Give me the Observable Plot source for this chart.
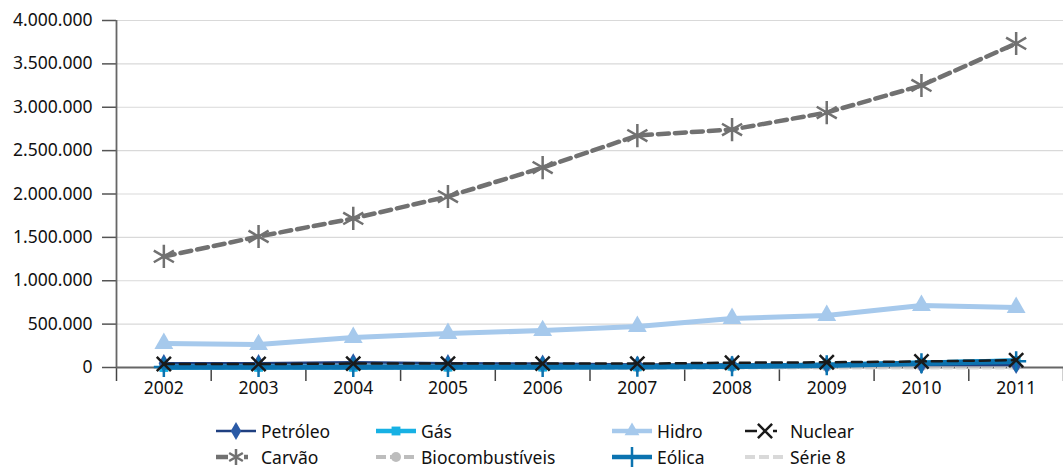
<!DOCTYPE html>
<html>
<head>
<meta charset="utf-8">
<script src="https://cdn.jsdelivr.net/npm/d3@7"></script>
<script src="https://cdn.jsdelivr.net/npm/@observablehq/plot@0.6"></script>
<style>
  html, body { margin: 0; padding: 0; background: #fff; }
  body { width: 1063px; height: 467px; position: relative; overflow: hidden; font-family: "Noto Sans", sans-serif; }
  #chart { position: absolute; left: 0; top: 0; }
  .leg { position: absolute; display: flex; align-items: center; font-size: 17.5px; color: #111; white-space: nowrap; }
  .leg svg { margin-right: 5px; }
</style>
</head>
<body>
<div id="chart"></div>
<div id="legend"></div>
<script>
// ---- data ----
const years = [2002, 2003, 2004, 2005, 2006, 2007, 2008, 2009, 2010, 2011];
const petroleo = [50000, 50000, 60000, 50000, 45000, 35000, 35000, 30000, 30000, 30000];
const gas = [0, 2000, 3000, 4000, 5000, 8000, 15000, 30000, 55000, 80000];
const hidro = [277000, 265000, 346000, 392000, 426000, 473000, 565000, 600000, 715000, 692000];
const nuclear = [40000, 40000, 45000, 45000, 45000, 45000, 55000, 60000, 70000, 85000];
const carvao = [1280000, 1510000, 1718000, 1971000, 2305000, 2674000, 2743000, 2939000, 3251000, 3735000];
const biocomb = [0, 0, 0, 0, 0, 0, 5000, 10000, 15000, 20000];
const eolica = [5000, 5000, 5000, 5000, 5000, 8000, 15000, 25000, 50000, 72000];
const serie8 = [0, 0, 0, 0, 0, 0, 0, 0, 0, 0];
const yTicks = [0, 500000, 1000000, 1500000, 2000000, 2500000, 3000000, 3500000, 4000000];

const seriesNames = ["Petróleo", "Gás", "Hidro", "Nuclear", "Carvão", "Biocombustíveis", "Eólica", "Série 8"];
const seriesValues = [petroleo, gas, hidro, nuclear, carvao, biocomb, eolica, serie8];

// ---- styles ----
const styles = {
  "Petróleo":        {stroke: "#1f3f80", width: 2.5, dash: null,   symbol: "diamond",  r: 5.5, fill: "#2a5aa6", mStroke: "none", mw: 0},
  "Gás":             {stroke: "#17b1e4", width: 4.5, dash: null,   symbol: "square",   r: 5,  fill: "#17b1e4", mStroke: "none", mw: 0},
  "Hidro":           {stroke: "#a6c9ec", width: 5,   dash: null,   symbol: "triangle", r: 7,  fill: "#a6c9ec", mStroke: "none", mw: 0},
  "Nuclear":         {stroke: "#1a1a1a", width: 2.5, dash: "10,6", symbol: "times",    r: 6.5, fill: "none",    mStroke: "#1a1a1a", mw: 2.5},
  "Carvão":          {stroke: "#717171", width: 4.5, dash: "11,6", symbol: "asterisk", r: 11, fill: "none",    mStroke: "#717171", mw: 2.5},
  "Biocombustíveis": {stroke: "#bdbdbd", width: 4,   dash: "8,5",  symbol: "circle",   r: 5,  fill: "#bdbdbd", mStroke: "none", mw: 0},
  "Eólica":          {stroke: "#0b73b0", width: 5.5, dash: null,   symbol: "plus",     r: 6.5, fill: "none",    mStroke: "#0b73b0", mw: 2.5},
  "Série 8":         {stroke: "#d9d9d9", width: 4,   dash: "8,5",  symbol: null,       r: 0,  fill: "none",    mStroke: "none", mw: 0}
};

const data = [];
seriesNames.forEach((name, i) => {
  years.forEach((yr, j) => data.push({series: name, year: yr, value: seriesValues[i][j]}));
});

const drawOrder = ["Série 8", "Biocombustíveis", "Gás", "Petróleo", "Eólica", "Nuclear", "Hidro", "Carvão"];
const boundaries = [years[0] - 0.5, ...years.map(y => y + 0.5)];

const locale = d3.formatLocale({decimal: ",", thousands: ".", grouping: [3], currency: ["", ""]});
const fmt = locale.format(",.0f");

const marks = [
  Plot.gridY(yTicks, {stroke: "#d9d9d9", strokeOpacity: 1, strokeWidth: 1.2}),
  Plot.axisY(yTicks, {tickSize: 14, tickPadding: 10, tickFormat: fmt, stroke: "#555", strokeWidth: 1.5, fontSize: 17.5, fill: "#111", label: null}),
  Plot.axisX(boundaries, {tickSize: 14, tickFormat: () => "", stroke: "#444", strokeWidth: 1.5, label: null}),
  Plot.axisX(years, {tickSize: 0, tickPadding: 14, tickFormat: d => String(d), fontSize: 17.5, fill: "#111", label: null}),
  Plot.ruleY([0], {stroke: "#666", strokeWidth: 1.8}),
  Plot.ruleX([boundaries[0]], {stroke: "#666", strokeWidth: 1.8})
];

for (const name of drawOrder) {
  const s = styles[name];
  const d = data.filter(r => r.series === name);
  marks.push(Plot.line(d, {x: "year", y: "value", stroke: s.stroke, strokeWidth: s.width, strokeDasharray: s.dash || undefined, strokeLinejoin: "round"}));
  if (s.symbol) {
    marks.push(Plot.dot(d, {x: "year", y: "value", symbol: () => s.symbol, r: s.r, fill: s.fill, stroke: s.mStroke, strokeWidth: s.mw}));
  }
}

const chart = Plot.plot({
  width: 1063,
  height: 400,
  marginLeft: 116,
  marginRight: 0,
  marginTop: 20,
  marginBottom: 33,
  style: {fontFamily: "Noto Sans, sans-serif", fontSize: "17.5px", background: "white", overflow: "visible"},
  x: {type: "linear", domain: [boundaries[0], boundaries[boundaries.length - 1]], label: null},
  y: {domain: [0, 4000000], label: null},
  symbol: {type: "identity"},
  marks
});
document.getElementById("chart").appendChild(chart);

// ---- legend ----
const legCols = [216, 376, 612, 745];
const legRows = [431, 457];
const legend = document.getElementById("legend");
seriesNames.forEach((name, i) => {
  const s = styles[name];
  const col = i % 4, row = Math.floor(i / 4);
  const div = document.createElement("div");
  div.className = "leg";
  div.style.left = legCols[col] + "px";
  div.style.top = (legRows[row] - 13) + "px";
  div.style.height = "26px";
  const w = 40, h = 26;
  const svg = d3.create("svg").attr("width", w).attr("height", h);
  svg.append("line").attr("x1", 0).attr("x2", w).attr("y1", h / 2).attr("y2", h / 2)
    .attr("stroke", s.stroke).attr("stroke-width", Math.min(s.width, 4.5))
    .attr("stroke-dasharray", s.dash ? (name === "Nuclear" || name === "Carvão" ? "12,16,4,8" : "10,4") : null);
  if (s.symbol) {
    const sym = {diamond: d3.symbolDiamond, square: d3.symbolSquare, triangle: d3.symbolTriangle, times: d3.symbolTimes, asterisk: d3.symbolAsterisk, circle: d3.symbolCircle, plus: d3.symbolPlus}[s.symbol];
    const rr = (s.mw > 0) ? Math.min(s.r, 7.5) : Math.min(s.r, 5.5);
    svg.append("path").attr("transform", `translate(${w / 2},${h / 2})`)
      .attr("d", d3.symbol(sym, Math.PI * rr * rr)())
      .attr("fill", s.fill).attr("stroke", s.mStroke).attr("stroke-width", s.mw);
  }
  div.appendChild(svg.node());
  const span = document.createElement("span");
  span.textContent = name;
  div.appendChild(span);
  legend.appendChild(div);
});
</script>
</body>
</html>
